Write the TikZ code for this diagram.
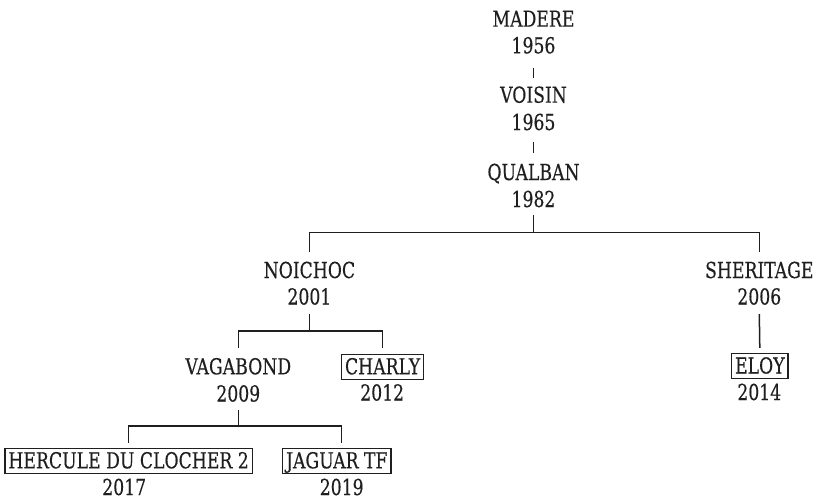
\documentclass[tikz,border=0pt]{standalone}
\usepackage{fontspec}
\usetikzlibrary{calc}
\setmainfont{DejaVu Serif Condensed}[FakeStretch=0.87, FakeBold=0.3]
\tikzset{
  txt/.style={font=\fontsize{22}{22}\selectfont, inner sep=0pt, anchor=base, text=black!88},
  boxed/.style={txt, draw=black!88, line width=1.3pt, inner xsep=3.5pt, inner ysep=0pt, text height=20pt, text depth=5pt},
  conn/.style={draw=black!88, line width=1.5pt}
}
\begin{document}
\begin{tikzpicture}[x=1pt,y=-1pt]
\useasboundingbox (0,0) rectangle (816,499);
\node[txt] (madere) at (533.5,26.7) {MADERE};
\node[txt] (y1956) at (533.5,53.3) {1956};
\node[txt] (voisin) at (533.5,102.7) {VOISIN};
\node[txt] (y1965) at (533.5,130) {1965};
\node[txt] (qualban) at (533.5,180) {QUALBAN};
\node[txt] (y1982) at (533.5,207) {1982};
\node[txt] (noichoc) at (309.4,278) {NOICHOC};
\node[txt] (y2001) at (309.4,304.5) {2001};
\node[txt] (sheritage) at (759.3,278) {SHERITAGE};
\node[txt] (y2006) at (759.3,304.5) {2006};
\node[txt] (vagabond) at (238.3,374.3) {VAGABOND};
\node[txt] (y2009) at (238.3,401.5) {2009};
\node[boxed] (charly) at (382.6,374.3) {CHARLY};
\node[txt] (y2012) at (382.2,400.5) {2012};
\node[boxed] (eloy) at (759.8,373.5) {ELOY};
\node[txt] (y2014) at (759.3,400) {2014};
\node[boxed] (hercule) at (128.6,468.3) {HERCULE DU CLOCHER 2};
\node[txt] (y2017) at (124.2,495) {2017};
\node[boxed] (jaguar) at (336.8,468.3) {JAGUAR TF};
\node[txt] (y2019) at (341.7,495) {2019};
\coordinate (j1) at (533.5,232.3);
\coordinate (j2) at (309.4,331);
\coordinate (j3) at (238.3,426);
% connectors
\draw[conn] ([yshift=-15pt]y1956.base) -- ([yshift=24.4pt]voisin.base);
\draw[conn] ([yshift=-11.7pt]y1965.base) -- ([yshift=26.7pt]qualban.base);
\draw[conn] ([yshift=-8pt]y1982.base) -- (j1);
\draw[conn] ([yshift=26.3pt]noichoc.base) |- (j1) -| ([yshift=26.3pt]sheritage.base);
\draw[conn] ([yshift=-9.5pt]y2001.base) -- (j2);
\draw[conn] ([yshift=26.3pt]vagabond.base) |- (j2) -| ([yshift=6pt]charly.north);
\draw[conn] ([yshift=-9.5pt]y2006.base) -- ([yshift=5pt]eloy.north);
\draw[conn] ([yshift=-8.5pt]y2009.base) -- (j3);
\draw[conn] ([yshift=5pt]hercule.north) |- (j3) -| ($(y2019.base |- jaguar.north)+(0,-5)$);
\end{tikzpicture}
\end{document}
